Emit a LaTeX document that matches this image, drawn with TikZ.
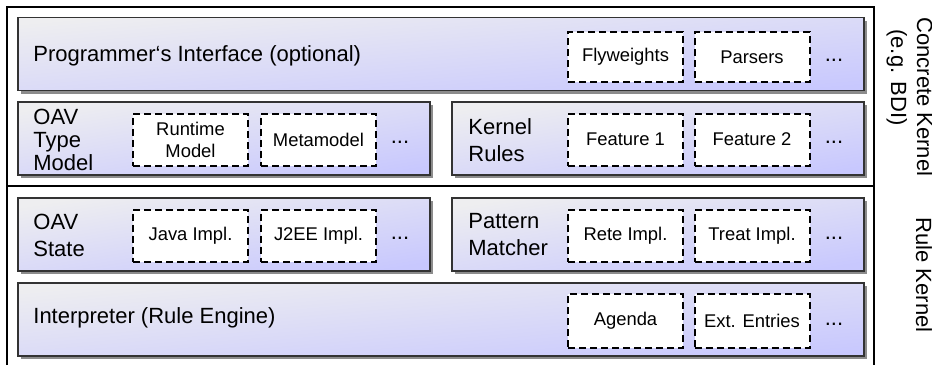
\documentclass[tikz,border=0pt]{standalone}
\usepackage{fontspec}
\setmainfont{Liberation Sans}
\usepackage{tikz}
\usetikzlibrary{shadows,positioning}
\definecolor{bartop}{RGB}{238,238,240}
\definecolor{barbottom}{RGB}{200,200,254}

\begin{document}
\begin{tikzpicture}[x=0.5pt, y=-0.5pt,
    layer/.style={draw=black!80, line width=0.6pt, top color=bartop, bottom color=barbottom,
        drop shadow={shadow xshift=1.6pt, shadow yshift=-1.6pt, fill=black!45, opacity=1},
        minimum height=36.5pt, inner sep=0pt},
    widelayer/.style={layer, minimum width=423pt, shading angle=5},
    halflayer/.style={layer, minimum width=206pt, shading angle=9},
    part/.style={draw=black, line width=1pt, dash pattern=on 3.5pt off 2pt, fill=white, minimum width=57.5pt,
        minimum height=26pt, align=center, inner sep=0pt, font=\fontsize{9.2}{11}\selectfont},
    more/.style={inner sep=0pt, font=\fontsize{11}{13}\selectfont},
    lab/.style={anchor=west, align=left, inner sep=0pt, font=\fontsize{11}{13.5}\selectfont},
    side/.style={rotate=-90, inner sep=0pt, font=\fontsize{11}{13}\selectfont},
    frame/.style={draw=black, line width=0.75pt}
]
    \useasboundingbox (0,0) rectangle (932,365);

    % Rahmen: Concrete Kernel oben, Rule Kernel unten
    \draw[frame] (7,365) -- (7,7) -- (874,7) -- (874,365);
    \draw[frame] (7,186) -- (874,186);

    % Schichten
    \node[widelayer] (api) at (441,54) {};
    \node[halflayer] (typemodel) at (224,138.5) {};
    \node[halflayer] (kernelrules) at (658,138.5) {};
    \node[halflayer] (oavstate) at (224,234.5) {};
    \node[halflayer] (matcher) at (658,234.5) {};
    \node[widelayer] (interp) at (441,319.5) {};

    % Beschriftungen der Schichten
    \node[lab] (apilab) at (33,56) {Programmer‘s Interface (optional)};
    \node[lab, font=\fontsize{11}{11.5}\selectfont] (typelab) at (33,140) {OAV\\Type\\Model};
    \node[lab] (kernellab) at (468,140) {Kernel\\Rules};
    \node[lab] (statelab) at (33,235) {OAV\\State};
    \node[lab] (matchlab) at (468,235) {Pattern\\Matcher};
    \node[lab] (interplab) at (33,318) {Interpreter (Rule Engine)};

    % Austauschbare Teile
    \node[part, minimum height=25pt] (flyweights) at (625.5,57) {Flyweights};
    \node[part, minimum height=25pt] (parsers) at (752,57) {Parsers};
    \node[more] (apimore) at (834,60) {...};

    \node[part] (runtime) at (190.5,139.5) {Runtime\\Model};
    \node[part] (metamodel) at (318.5,139.5) {Metamodel};
    \node[more] (typemore) at (400,142) {...};
    \node[part] (feature1) at (625.5,139.5) {Feature 1};
    \node[part] (feature2) at (752,139.5) {Feature 2};
    \node[more] (kernelmore) at (834,142) {...};

    \node[part] (javaimpl) at (190.5,235.5) {Java Impl.};
    \node[part] (jeeimpl) at (318.5,235.5) {J2EE Impl.};
    \node[more] (statemore) at (400,238) {...};
    \node[part] (rete) at (625.5,235.5) {Rete Impl.};
    \node[part] (treat) at (752,235.5) {Treat Impl.};
    \node[more] (matchmore) at (834,238) {...};

    \node[part, minimum height=27pt] (agenda) at (625.5,321) {Agenda};
    \node[part, minimum height=27pt] (extentries) at (752,321) {Ext. Entries};
    \node[more] (interpmore) at (834,324) {...};

    % Seitliche Beschriftungen
    \node[side, anchor=base west] (concrete) at (917,17) {Concrete Kernel};
    \node[side, anchor=base west] (bdi) at (891,29) {(e.g. BDI)};
    \node[side, anchor=base] (rulekernel) at (916,275) {Rule Kernel};
\end{tikzpicture}
\end{document}
